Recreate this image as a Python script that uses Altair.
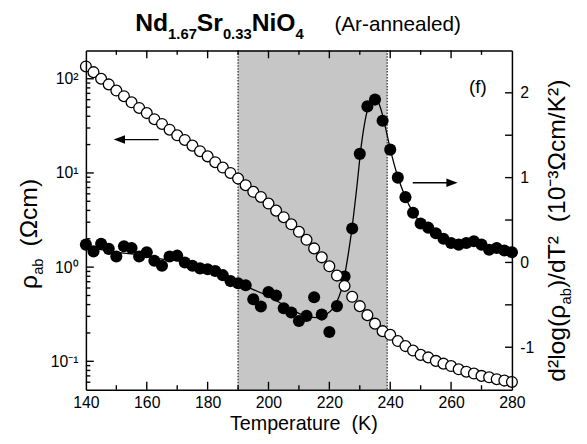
import altair as alt
import pandas as pd

# ---------------- data ----------------
temps = [140.0, 142.5, 145.0, 147.5, 150.0, 152.5, 155.0, 157.5, 160.0, 162.5,
         165.0, 167.5, 170.0, 172.5, 175.0, 177.5, 180.0, 182.5, 185.0, 187.5,
         190.0, 192.5, 195.0, 197.5, 200.0, 202.5, 205.0, 207.5, 210.0, 212.5,
         215.0, 217.5, 220.0, 222.5, 225.0, 227.5, 230.0, 232.5, 235.0, 237.5,
         240.0, 242.5, 245.0, 247.5, 250.0, 252.5, 255.0, 257.5, 260.0, 262.5,
         265.0, 267.5, 270.0, 272.5, 275.0, 277.5, 280.0]

rho_ab = [135, 117.5, 100, 87.1, 75.0, 65.3, 56.2, 49.0, 43.2, 37.2,
          33.1, 28.8, 25.1, 22.4, 19.5, 17.0, 15.0, 13.0, 11.4, 10.0,
          8.71, 7.41, 6.31, 5.56, 4.73, 3.98, 3.39, 2.85, 2.37, 1.95,
          1.58, 1.27, 1.02, 0.813, 0.631, 0.484, 0.385, 0.309, 0.251, 0.209,
          0.191, 0.164, 0.145, 0.130, 0.117, 0.110, 0.101, 0.0944, 0.0891, 0.0822,
          0.0776, 0.0741, 0.0700, 0.0676, 0.0646, 0.0624, 0.0603]

d2_log_rho = [0.21, 0.13, 0.22, 0.16, 0.07, 0.19, 0.17, 0.07, 0.12, 0.02,
              -0.04, 0.07, 0.08, 0.00, -0.04, -0.07, -0.08, -0.10, -0.15, -0.22,
              -0.245, -0.27, -0.435, -0.52, -0.35, -0.39, -0.54, -0.59, -0.69, -0.63,
              -0.41, -0.615, -0.82, -0.515, -0.165, 0.40, 1.28, 1.84, 1.92, 1.67,
              1.33, 1.00, 0.77, 0.585, 0.46, 0.41, 0.345, 0.28, 0.23, 0.21,
              0.23, 0.25, 0.21, 0.15, 0.17, 0.14, 0.12]

fit_temps = [140, 145, 150, 155, 160, 165, 170, 175, 180, 185, 190, 195, 200, 205,
             210, 213, 216, 219, 221, 223, 224.5, 226, 227.5, 229, 230.5, 232,
             233.5, 234.5, 235.5, 237, 238.5, 240, 242.5, 245, 247.5, 250, 252.5,
             255, 257.5, 260, 265, 270, 275, 280]
fit_values = [0.17, 0.15, 0.12, 0.10, 0.07, 0.04, 0.02, -0.02, -0.07, -0.13, -0.24,
              -0.32, -0.40, -0.50, -0.60, -0.645, -0.65, -0.61, -0.55, -0.42, -0.25,
              0.05, 0.42, 0.88, 1.38, 1.72, 1.91, 1.95, 1.93, 1.80, 1.58, 1.34, 1.01,
              0.77, 0.59, 0.47, 0.39, 0.33, 0.29, 0.26, 0.235, 0.21, 0.17, 0.13]

band_range = [190, 239]
x_major_ticks = [140, 160, 180, 200, 220, 240, 260, 280]
x_inner_major_ticks = [160, 180, 200, 220, 240, 260]
x_minor_ticks = [150, 170, 190, 210, 230, 250, 270]
left_major_ticks = [0.1, 1, 10, 100]
left_minor_ticks = [0.06, 0.07, 0.08, 0.09, 0.2, 0.3, 0.4, 0.5, 0.6, 0.7, 0.8, 0.9,
                    2, 3, 4, 5, 6, 7, 8, 9, 20, 30, 40, 50, 60, 70, 80, 90]
right_ticks = [-1.0, -0.5, 0.0, 0.5, 1.0, 1.5, 2.0]

left_arrow = {"tail": [163.9], "head": [151.0], "y": [22.6]}
right_arrow = {"tail": [247.4], "head": [260.3], "y": [0.94]}
panel_label = {"t": ["(f)"], "x": [268.8], "y": [2.07]}

# ---------------- layout / style ----------------
FONT = "Liberation Sans"
W, H = 432, 344
NB = "\u00a0"
RIGHT_LO, RIGHT_HI = -1.5, 2.5
PX_PER_UNIT = H / (RIGHT_HI - RIGHT_LO)

ARIAL = {" ": 278, NB: 278, "(": 333, ")": 333, "-": 333, ".": 278, "/": 278,
         "A": 667, "K": 667, "T": 611, "a": 556, "b": 556, "c": 500, "d": 556,
         "e": 556, "g": 556, "l": 222, "m": 833, "n": 556, "o": 556, "p": 556,
         "r": 333, "t": 278, "u": 556, "\u03a9": 768, "\u03c1": 576, "\u00b2": 333,
         "\u00b3": 333, "\u207b": 584}
ARIAL_B = {"N": 722, "d": 611, "S": 667, "r": 389, "i": 278, "O": 778, ".": 278}


def tw(s, size, bold=False):
    tab = ARIAL_B if bold else ARIAL
    return sum(tab.get(c, 556) for c in s) * size / 1000.0


xs = alt.Scale(domain=[140, 280], nice=False, zero=False)
ys_left = alt.Scale(type="log", domain=[0.05, 200], nice=False)
ys_right = alt.Scale(domain=[RIGHT_LO, RIGHT_HI], nice=False, zero=False)


def label_axis(orient, values, pad, **kw):
    return alt.Axis(orient=orient, values=values, ticks=False, tickSize=0, domain=False,
                    grid=False, labels=True, title=None, zindex=2, labelFlush=False,
                    labelFont=FONT, labelFontSize=16, labelColor="black",
                    labelPadding=pad, **kw)


def frame_axis(orient):
    return alt.Axis(orient=orient, domain=True, domainColor="black", domainWidth=1.5,
                    ticks=False, labels=False, grid=False, title=None, zindex=2)


df = pd.DataFrame({"T": temps, "rho": rho_ab, "d2": d2_log_rho})
df_fit = pd.DataFrame({"T": fit_temps, "v": fit_values})

band = alt.Chart(pd.DataFrame({"lo": [band_range[0]], "hi": [band_range[1]]})).mark_rect(
    color="#c6c6c6").encode(
    x=alt.X("lo:Q", scale=xs, axis=label_axis("bottom", x_major_ticks, 5)),
    x2="hi:Q")

edges = alt.Chart(pd.DataFrame({"t": band_range})).mark_rule(
    color="#333333", strokeDash=[1.5, 1.5], strokeWidth=1.3).encode(
    x=alt.X("t:Q", scale=xs, axis=frame_axis("bottom")))

fit = alt.Chart(df_fit).mark_line(color="black", strokeWidth=1.3, interpolate="monotone").encode(
    x=alt.X("T:Q", scale=xs, axis=frame_axis("top")),
    y=alt.Y("v:Q", scale=ys_right, axis=frame_axis("right")))

right_label_expr = ("datum.value == 2 ? '2' : datum.value == 1 ? '1' : "
                    "datum.value == 0 ? '0' : datum.value == -1 ? '-1' : ''")
filled = alt.Chart(df).mark_circle(color="black", size=150, opacity=1).encode(
    x=alt.X("T:Q", scale=xs, axis=None),
    y=alt.Y("d2:Q", scale=ys_right,
            axis=label_axis("right", right_ticks, 8, labelExpr=right_label_expr)))

left_label_expr = ("datum.value == 100 ? '10\u00b2' : datum.value == 10 ? '10\u00b9' : "
                   "datum.value == 1 ? '10\u2070' : '10\u207b\u00b9'")
opencirc = alt.Chart(df).mark_point(shape="circle", filled=True, fill="white", stroke="black",
                                    strokeWidth=1.3, size=120, opacity=1).encode(
    x=alt.X("T:Q", scale=xs, axis=None),
    y=alt.Y("rho:Q", scale=ys_left,
            axis=label_axis("left", left_major_ticks, 8, labelExpr=left_label_expr)))

la = pd.DataFrame(left_arrow)
la_shaft = alt.Chart(la).mark_rule(color="black", strokeWidth=1.4).encode(
    x=alt.X("tail:Q", scale=xs, axis=None), x2="head:Q",
    y=alt.Y("y:Q", scale=ys_left, axis=frame_axis("left")))
la_head = alt.Chart(la).mark_point(shape="M-1,0L1,-0.75L1,0.75Z", filled=True, color="black",
                                   size=130, opacity=1, strokeWidth=0).encode(
    x=alt.X("head:Q", scale=xs, axis=None),
    y=alt.Y("y:Q", scale=ys_left, axis=None))

ra = pd.DataFrame(right_arrow)
ra_shaft = alt.Chart(ra).mark_rule(color="black", strokeWidth=1.4).encode(
    x=alt.X("tail:Q", scale=xs, axis=None), x2="head:Q",
    y=alt.Y("y:Q", scale=ys_right, axis=None))
ra_head = alt.Chart(ra).mark_point(shape="M1,0L-1,-0.75L-1,0.75Z", filled=True, color="black",
                                   size=130, opacity=1, strokeWidth=0).encode(
    x=alt.X("head:Q", scale=xs, axis=None),
    y=alt.Y("y:Q", scale=ys_right, axis=None))

ftext = alt.Chart(pd.DataFrame(panel_label)).mark_text(
    font=FONT, fontSize=19, color="black", align="center", baseline="middle").encode(
    x=alt.X("x:Q", scale=xs, axis=None), y=alt.Y("y:Q", scale=ys_right, axis=None),
    text="t:N")


# inward-pointing ticks, drawn as short rules placed through the scales
TICK_COLOR = "black"
TICK_W = 1.4


def x_ticks(values, length, top):
    edge = RIGHT_HI if top else RIGHT_LO
    inner = edge - length / PX_PER_UNIT if top else edge + length / PX_PER_UNIT
    return alt.Chart(pd.DataFrame({"tick_value": values})).mark_rule(
        color=TICK_COLOR, strokeWidth=TICK_W, opacity=1).encode(
        x=alt.X("tick_value:Q", scale=xs, axis=None),
        y=alt.Y(datum=edge, scale=ys_right, axis=None),
        y2=alt.Y2(datum=inner))


def y_ticks(values, scale, length, right):
    return alt.Chart(pd.DataFrame({"tick_value": values})).mark_rule(
        color=TICK_COLOR, strokeWidth=TICK_W, opacity=1).encode(
        y=alt.Y("tick_value:Q", scale=scale, axis=None),
        x=alt.value(W - length if right else 0),
        x2=alt.value(W if right else length))


tick_layers = [
    x_ticks(x_inner_major_ticks, 8, False), x_ticks(x_minor_ticks, 4.5, False),
    x_ticks(x_inner_major_ticks, 8, True), x_ticks(x_minor_ticks, 4.5, True),
    y_ticks(left_major_ticks, ys_left, 8, False), y_ticks(left_minor_ticks, ys_left, 4.5, False),
    y_ticks(right_ticks, ys_right, 7, True),
]


def piece(txt, x, y, size, bold=False, angle=0, align="left"):
    return alt.Chart(pd.DataFrame({"t": [txt]})).mark_text(
        font=FONT, fontSize=size, fontWeight="bold" if bold else "normal",
        align=align, baseline="alphabetic", angle=angle, color="black").encode(
        text="t:N", x=alt.value(x), y=alt.value(y))


texts = []
cx, base, sub = 50.0, -20.0, -12.0
for s, size, is_sub in [("Nd", 25, False), ("1.67", 15, True), ("Sr", 25, False),
                        ("0.33", 15, True), ("NiO", 25, False), ("4", 15, True)]:
    texts.append(piece(s, cx, sub if is_sub else base, size, bold=True))
    cx += tw(s, size, bold=True)
texts.append(piece("(Ar-annealed)", 252, base, 21))

texts.append(piece("Temperature" + NB + NB + "(K)", 221, 385, 20, align="center"))

cy, bx = 242.0, -50.0
for s, size, shift, gap in [("\u03c1", 25, 0, 0), ("ab", 15, 6, 12), ("(\u03a9cm)", 25, 0, 0)]:
    texts.append(piece(s, bx + shift, cy, size, angle=270))
    cy -= tw(s, size) + gap

cy, bx = 336.0, 486.0
for s, size, shift, gap in [("d\u00b2log(\u03c1", 25, 0, 0), ("ab", 15, 6, 0),
                            (")/dT\u00b2", 25, 0, 14),
                            ("(10\u207b\u00b3\u03a9cm/K\u00b2)", 25, 0, 0)]:
    texts.append(piece(s, bx + shift, cy, size, angle=270))
    cy -= tw(s, size) + gap

chart = alt.layer(
    band, edges, fit, filled, opencirc, la_shaft, la_head, ra_shaft, ra_head, ftext,
    *tick_layers, *texts
).resolve_scale(y="independent").resolve_axis(x="independent", y="independent").properties(
    width=W, height=H, autosize="none",
    padding={"left": 79, "top": 40, "right": 68, "bottom": 44},
    background="white",
).configure_view(stroke="transparent")

chart.save("out.html", embed_options={"renderer": "svg", "actions": False})
